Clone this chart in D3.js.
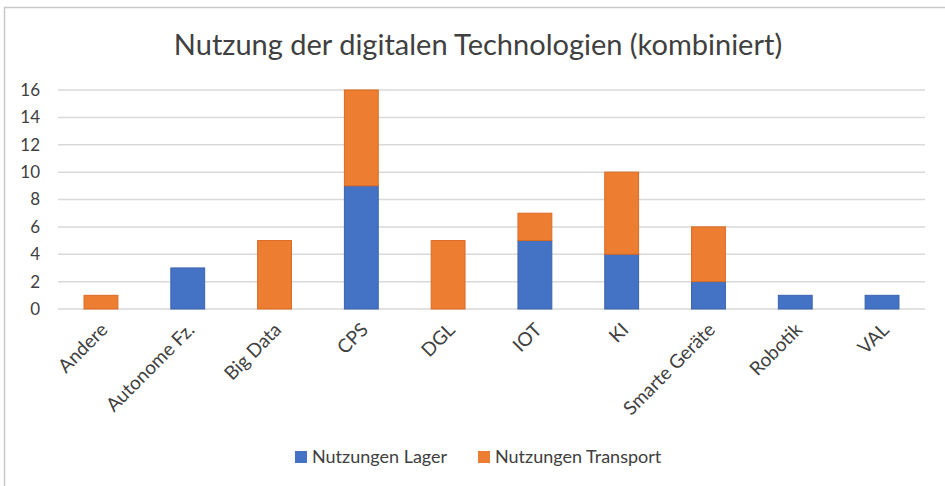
<!DOCTYPE html>
<html>
<head>
<meta charset="utf-8">
<script src="https://cdn.jsdelivr.net/npm/d3@7"></script>
<style>
  html, body { margin: 0; padding: 0; background: #fff; }
  svg { display: block; font-family: Lato, "Open Sans", sans-serif; }
</style>
</head>
<body>
<svg id="chart" width="945" height="486"></svg>
<script>
// data
var categories = ["Andere", "Autonome Fz.", "Big Data", "CPS", "DGL", "IOT", "KI", "Smarte Geräte", "Robotik", "VAL"];
var lager = [0, 3, 0, 9, 0, 5, 4, 2, 1, 1];
var transport = [1, 0, 5, 7, 5, 2, 6, 4, 0, 0];
var seriesNames = ["Nutzungen Lager", "Nutzungen Transport"];
var yTicks = [0, 2, 4, 6, 8, 10, 12, 14, 16];

var colors = ["#4472C4", "#ED7D31"];
var strokes = ["#3a62ad", "#d96a22"];

var svg = d3.select("#chart");
var margin = { top: 90, left: 58 },
    width = 925 - margin.left,
    height = 309 - margin.top;

// outer frame (only left/top edges visible in the crop)
svg.append("rect")
    .attr("x", 4.5).attr("y", 7.5)
    .attr("width", 960).attr("height", 500)
    .attr("fill", "none")
    .attr("stroke", "#c8c8c8")
    .attr("stroke-width", 1.5);

svg.append("text")
    .attr("x", 478).attr("y", 55)
    .attr("text-anchor", "middle")
    .attr("font-size", 29)
    .attr("fill", "#404040")
    .text("Nutzung der digitalen Technologien (kombiniert)");

var x = d3.scaleBand().domain(categories).range([0, width]).paddingInner(0.61).paddingOuter(0.3);
var y = d3.scaleLinear().domain([0, 16]).range([height, 0]);

var g = svg.append("g").attr("transform", "translate(" + margin.left + "," + margin.top + ")");

// gridlines
g.selectAll(".grid").data(yTicks).enter().append("line")
    .attr("x1", 0).attr("x2", width)
    .attr("y1", function(d) { return y(d); })
    .attr("y2", function(d) { return y(d); })
    .attr("stroke", "#d9d9d9")
    .attr("stroke-width", 1.5);

// y labels
g.selectAll(".ylab").data(yTicks).enter().append("text")
    .attr("x", -18)
    .attr("y", function(d) { return y(d); })
    .attr("dy", "0.35em")
    .attr("text-anchor", "end")
    .attr("font-size", 17)
    .attr("fill", "#404040")
    .text(function(d) { return d; });

// stacked bars
var rows = categories.map(function(c, i) {
  return { cat: c, lager: lager[i], transport: transport[i] };
});
var stack = d3.stack().keys(["lager", "transport"])(rows);

g.selectAll(".layer").data(stack).enter().append("g")
    .attr("fill", function(d, i) { return colors[i]; })
    .attr("stroke", function(d, i) { return strokes[i]; })
  .selectAll("rect").data(function(d) { return d.filter(function(p) { return p[1] - p[0] > 0; }); })
  .enter().append("rect")
    .attr("x", function(d) { return x(d.data.cat); })
    .attr("width", x.bandwidth())
    .attr("y", function(d) { return y(d[1]); })
    .attr("height", function(d) { return y(d[0]) - y(d[1]); });

// x labels rotated
g.selectAll(".xlab").data(categories).enter().append("text")
    .attr("transform", function(d) {
      return "translate(" + (x(d) + x.bandwidth() / 2 + 8) + "," + (height + 22) + ") rotate(-45)";
    })
    .attr("text-anchor", "end")
    .attr("font-size", 19)
    .attr("fill", "#404040")
    .text(function(d) { return d; });

// legend
var legend = svg.append("g").attr("transform", "translate(0,457)");
var legX = [295, 478];
seriesNames.forEach(function(name, i) {
  legend.append("rect")
      .attr("x", legX[i]).attr("y", -6)
      .attr("width", 12).attr("height", 12)
      .attr("fill", colors[i]);
  legend.append("text")
      .attr("x", legX[i] + 17).attr("y", 0)
      .attr("dy", "0.35em")
      .attr("font-size", 18)
      .attr("fill", "#404040")
      .text(name);
});
</script>
</body>
</html>
